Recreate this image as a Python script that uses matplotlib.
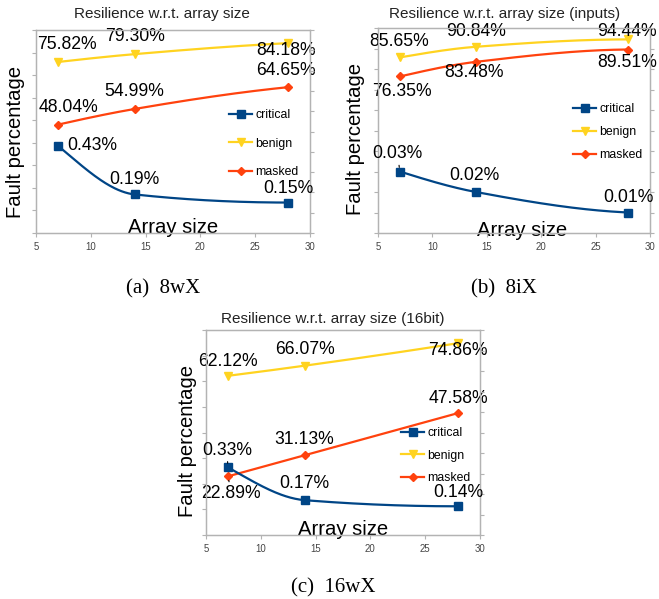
import numpy as np
import matplotlib
matplotlib.use('Agg')
import matplotlib.pyplot as plt
from matplotlib.lines import Line2D

plt.rcParams['font.family'] = ['Liberation Sans', 'DejaVu Sans']

# ---------------- data ----------------
array_sizes = [7, 14, 28]
series_names = ['critical', 'benign', 'masked']

crit_8wX = [0.43, 0.19, 0.15]
benign_8wX = [75.82, 79.30, 84.18]
masked_8wX = [48.04, 54.99, 64.65]

crit_8iX = [0.03, 0.02, 0.01]
benign_8iX = [85.65, 90.84, 94.44]
masked_8iX = [76.35, 83.48, 89.51]

crit_16wX = [0.33, 0.17, 0.14]
benign_16wX = [62.12, 66.07, 74.86]
masked_16wX = [22.89, 31.13, 47.58]

titles = ['Resilience w.r.t. array size',
          'Resilience w.r.t. array size (inputs)',
          'Resilience w.r.t. array size (16bit)']
captions = ['(a)  8wX', '(b)  8iX', '(c)  16wX']
x_ticks = [5, 10, 15, 20, 25, 30]
left_max = [90, 100, 80]
right_max = [1.0, 0.1, 1.0]

# ---------------- style ----------------
C_CRIT = '#004586'
C_BEN = '#ffd320'
C_MASK = '#ff420e'
GRID = '#b3b3b3'
W, H = 659, 599


def pchip(x, y, xs):
    x = np.asarray(x, float)
    y = np.asarray(y, float)
    h = np.diff(x)
    delta = np.diff(y) / h
    n = len(x)
    d = np.zeros(n)
    for k in range(1, n - 1):
        if delta[k - 1] * delta[k] > 0:
            w1 = 2 * h[k] + h[k - 1]
            w2 = h[k] + 2 * h[k - 1]
            d[k] = (w1 + w2) / (w1 / delta[k - 1] + w2 / delta[k])

    def end(h0, h1, d0, d1):
        s = ((2 * h0 + h1) * d0 - h0 * d1) / (h0 + h1)
        if np.sign(s) != np.sign(d0):
            s = 0.0
        elif np.sign(d0) != np.sign(d1) and abs(s) > 3 * abs(d0):
            s = 3 * d0
        return s

    d[0] = end(h[0], h[1], delta[0], delta[1])
    d[-1] = end(h[-1], h[-2], delta[-1], delta[-2])
    xs = np.asarray(xs, float)
    idx = np.clip(np.searchsorted(x, xs) - 1, 0, n - 2)
    t = (xs - x[idx]) / h[idx]
    h00 = 2 * t**3 - 3 * t**2 + 1
    h10 = t**3 - 2 * t**2 + t
    h01 = -2 * t**3 + 3 * t**2
    h11 = t**3 - t**2
    return (h00 * y[idx] + h10 * h[idx] * d[idx]
            + h01 * y[idx + 1] + h11 * h[idx] * d[idx + 1])


fig = plt.figure(figsize=(W / 100, H / 100), dpi=100)


def px_rect(l, r, t, b):
    return [l / W, 1 - b / H, (r - l) / W, (b - t) / H]


panels = [
    dict(rect=px_rect(36, 310, 30, 233), crit=crit_8wX, ben=benign_8wX,
         mask=masked_8wX, title_x=0.46, title_pad=8.4,
         off_b=[(9, 17), (0, 18), (-2, -7)],
         off_m=[(11, 17.5), (0, 17), (-2, 17)],
         off_c=[(34, 0), (0, 15), (0, 14.5)],
         lead_c=False, lead_m=False,
         leg=(0.704, 0.611), legsp=1.36,
         ylab=(-0.073, 0.45), xlab=(0.5, 0.0), cap=(163, 293)),
    dict(rect=px_rect(378, 650, 28, 233), crit=crit_8iX, ben=benign_8iX,
         mask=masked_8iX, title_x=0.467, title_pad=7.0,
         off_b=[(-1, 16), (0, 15), (-1, 7.5)],
         off_m=[(2, -15), (-2, -10.6), (-1, -13)],
         off_c=[(-2, 17.5), (-1.5, 16.5), (0, 15.5)],
         lead_c=True, lead_m=False,
         leg=(0.717, 0.634), legsp=0.9,
         ylab=(-0.081, 0.459), xlab=(0.53, -0.015), cap=(504, 293)),
    dict(rect=px_rect(206, 480, 330, 535), crit=crit_16wX, ben=benign_16wX,
         mask=masked_16wX, title_x=0.464, title_pad=5.3,
         off_b=[(0, 14), (0, 16), (0, -7.5)],
         off_m=[(3.5, -16.7), (0, 15.7), (0, 15)],
         off_c=[(-1, 17), (0, 16.6), (0, 13.8)],
         lead_c=True, lead_m=True,
         leg=(0.712, 0.527), legsp=0.88,
         ylab=(-0.069, 0.459), xlab=(0.5, 0.0), cap=(333, 592)),
]

LABEL_FS = 12.7
xs = np.linspace(array_sizes[0], array_sizes[-1], 200)

for i, p in enumerate(panels):
    ax = fig.add_axes(p['rect'])
    ax2 = ax.twinx()
    ax.set_xlim(5, 30)
    ax.set_xticks(x_ticks)
    ax.set_ylim(0, left_max[i])
    ax.set_yticks(np.arange(0, left_max[i] + 0.001, 10))
    ax2.set_ylim(0, right_max[i])
    ax2.set_yticks(np.linspace(0, right_max[i], 11))
    for a in (ax, ax2):
        for s in a.spines.values():
            s.set_color(GRID)
            s.set_linewidth(0.9)
    ax.tick_params(axis='y', left=True, right=False, labelleft=False,
                   length=3, width=0.8, color=GRID, direction='out')
    ax2.tick_params(axis='y', left=False, right=True, labelright=False,
                    length=3, width=0.8, color=GRID, direction='out')
    ax.tick_params(axis='x', bottom=True, top=False, length=3, width=0.8,
                   color=GRID, labelsize=6.9, labelcolor='#444444', pad=3.5)

    # series
    ax.plot(xs, pchip(array_sizes, p['ben'], xs), color=C_BEN, lw=1.6, zorder=3)
    ax.plot(array_sizes, p['ben'], 'v', color=C_BEN, ms=6, zorder=4)
    ax.plot(xs, pchip(array_sizes, p['mask'], xs), color=C_MASK, lw=1.6, zorder=3)
    ax.plot(array_sizes, p['mask'], 'D', color=C_MASK, ms=4.3, zorder=4)
    ax2.plot(xs, pchip(array_sizes, p['crit'], xs), color=C_CRIT, lw=1.6, zorder=3)
    ax2.plot(array_sizes, p['crit'], 's', color=C_CRIT, ms=5.5, zorder=4)

    # data labels
    for j, x in enumerate(array_sizes):
        ax.annotate(f"{p['ben'][j]:.2f}%", xy=(x, p['ben'][j]),
                    xytext=p['off_b'][j], textcoords='offset pixels',
                    ha='center', va='center', fontsize=LABEL_FS, zorder=6)
        kw = {}
        if j == 0 and p['lead_m']:
            kw = dict(arrowprops=dict(arrowstyle='-', lw=0.8, color='black',
                                      shrinkA=0, shrinkB=3))
        ax.annotate(f"{p['mask'][j]:.2f}%", xy=(x, p['mask'][j]),
                    xytext=p['off_m'][j], textcoords='offset pixels',
                    ha='center', va='center', fontsize=LABEL_FS, zorder=6, **kw)
        kw = {}
        if j == 0 and p['lead_c']:
            kw = dict(arrowprops=dict(arrowstyle='-', lw=0.8, color='black',
                                      shrinkA=0, shrinkB=3))
        ax2.annotate(f"{p['crit'][j]:.2f}%", xy=(x, p['crit'][j]),
                     xytext=p['off_c'][j], textcoords='offset pixels',
                     ha='center', va='center', fontsize=LABEL_FS, zorder=6, **kw)

    # legend
    handles = [
        Line2D([], [], color=C_CRIT, lw=1.6, marker='s', ms=5.5),
        Line2D([], [], color=C_BEN, lw=1.6, marker='v', ms=6),
        Line2D([], [], color=C_MASK, lw=1.6, marker='D', ms=4.3),
    ]
    ax2.legend(handles, series_names, loc='upper left',
               bbox_to_anchor=p['leg'], bbox_transform=ax2.transAxes,
               frameon=False, fontsize=8.8, handlelength=1.9,
               handletextpad=0.25, labelspacing=p['legsp'],
               borderpad=0, borderaxespad=0)

    # titles and axis labels
    ax.set_title(titles[i], fontsize=11, x=p['title_x'], pad=p['title_pad'],
                 color='#222222')
    ax.set_ylabel('Fault percentage', fontsize=14.6)
    ax.yaxis.set_label_coords(*p['ylab'])
    ax.yaxis.label.set_verticalalignment('center')
    ax.set_xlabel('Array size', fontsize=14.6)
    ax.xaxis.set_label_coords(*p['xlab'])
    ax.xaxis.label.set_verticalalignment('baseline')

    fig.text(p['cap'][0] / W, 1 - p['cap'][1] / H, captions[i],
             ha='center', va='baseline', family='Liberation Serif',
             fontsize=15)

fig.savefig('out.png', dpi=100)
